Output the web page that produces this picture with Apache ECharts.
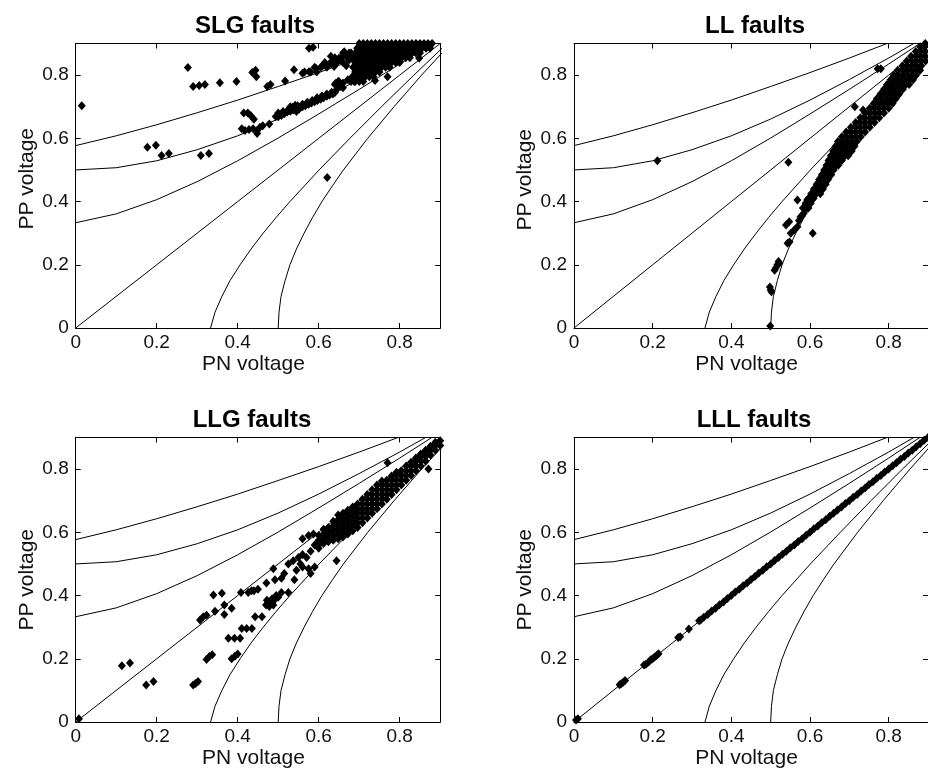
<!DOCTYPE html>
<html>
<head>
<meta charset="utf-8">
<script src="https://cdn.jsdelivr.net/npm/echarts@6/dist/echarts.min.js"></script>
<style>
html,body{margin:0;padding:0;background:#fff;}
#chart{width:928px;height:774px;}
</style>
</head>
<body>
<div id="chart"></div>
<script>
// ---------- data ----------
const panelTitles = ['SLG faults', 'LL faults', 'LLG faults', 'LLL faults'];
const xTickLabels = ['0', '0.2', '0.4', '0.6', '0.8'];
const yTickLabels = ['0', '0.2', '0.4', '0.6', '0.8'];
const xName = 'PN voltage';
const yName = 'PP voltage';

// reference curves (same in every panel)
const curveA = [[0,0],[0.2,0.2],[0.4,0.4],[0.6,0.6],[0.8,0.8],[1,1]];
const curveB = [[0,0.577],[0.1,0.608],[0.2,0.643],[0.3,0.681],[0.4,0.721],[0.5,0.764],[0.6,0.808],[0.7,0.854],[0.8,0.902],[0.9,0.950],[1,1]];
const curveD = [[0,0.5],[0.1,0.507],[0.2,0.529],[0.3,0.564],[0.4,0.608],[0.5,0.661],[0.6,0.721],[0.7,0.786],[0.8,0.854],[0.9,0.926],[1,1]];
const curveF = [[0,0.333],[0.1,0.361],[0.2,0.406],[0.3,0.463],[0.4,0.529],[0.5,0.601],[0.6,0.677],[0.7,0.755],[0.8,0.835],[0.9,0.917],[1,1]];
const curveC = [[0.5,0],[0.502,0.05],[0.507,0.1],[0.517,0.15],[0.529,0.2],[0.545,0.25],[0.564,0.3],[0.585,0.35],[0.608,0.4],[0.634,0.45],[0.661,0.5],[0.721,0.6],[0.786,0.7],[0.854,0.8],[0.926,0.9],[1,1]];
const curveG = [[0.333,0],[0.344,0.05],[0.361,0.1],[0.381,0.15],[0.406,0.2],[0.433,0.25],[0.463,0.3],[0.495,0.35],[0.529,0.4],[0.601,0.5],[0.677,0.6],[0.755,0.7],[0.835,0.8],[0.917,0.9],[1,1]];

// measured points: [PN voltage, PP voltage]
const slgPoints = [
 [0.015,0.703],[0.277,0.824],[0.29,0.764],[0.305,0.767],[0.319,0.77],[0.356,0.776],[0.397,0.78],
 [0.436,0.808],[0.444,0.815],[0.446,0.795],[0.473,0.764],[0.481,0.77],[0.517,0.781],[0.539,0.817],
 [0.576,0.885],[0.586,0.888],[0.177,0.572],[0.198,0.578],[0.212,0.546],[0.23,0.552],[0.309,0.546],
 [0.329,0.552],[0.621,0.476],
 [0.415,0.68],[0.425,0.68],[0.432,0.672],[0.44,0.66],[0.41,0.63],[0.418,0.625],[0.428,0.628],
 [0.438,0.63],[0.448,0.625],[0.455,0.635],[0.462,0.64],[0.448,0.615],[0.478,0.645],[0.494,0.669],
 [0.5,0.668],[0.508,0.672],[0.515,0.678],[0.522,0.683],[0.53,0.686],[0.537,0.69],[0.545,0.695],
 [0.552,0.693],[0.56,0.7],[0.567,0.703],[0.575,0.708],[0.582,0.712],[0.59,0.716],[0.597,0.72],
 [0.605,0.724],[0.612,0.728],[0.62,0.733],[0.627,0.737],[0.635,0.74],[0.64,0.745],[0.545,0.685],
 [0.5,0.68],[0.512,0.685],[0.524,0.69],[0.536,0.698],[0.548,0.703],[0.56,0.708],[0.572,0.714],
 [0.584,0.72],[0.596,0.728],[0.608,0.734],[0.62,0.74],[0.632,0.746],[0.53,0.7],[0.542,0.705],
 [0.642,0.774],[0.648,0.78],[0.654,0.764],[0.683,0.795],[0.695,0.8],[0.688,0.78],[0.64,0.77],
 [0.65,0.78],[0.66,0.76],[0.645,0.755],[0.66,0.775],[0.672,0.785],
 [0.56,0.806],[0.576,0.811],[0.593,0.822],[0.609,0.829],[0.626,0.835],[0.638,0.827],[0.65,0.853],
 [0.667,0.864],[0.663,0.874],[0.675,0.848],[0.63,0.86],[0.64,0.85],[0.66,0.86],[0.668,0.83],
 [0.739,0.783],[0.77,0.795],[0.848,0.853],
 [0.565,0.81],[0.58,0.81],[0.595,0.81],[0.59,0.825],[0.605,0.825],[0.62,0.825],
 [0.615,0.84],[0.63,0.84],[0.645,0.84],[0.66,0.84],[0.64,0.855],[0.655,0.855],[0.67,0.855],
 [0.66,0.87],[0.675,0.87]
];

// dense cluster of SLG points at the upper right
const slgCluster = [
 [0.70,0.90],[0.71,0.90],[0.72,0.90],[0.73,0.90],[0.74,0.90],[0.75,0.90],[0.76,0.90],[0.77,0.90],
 [0.78,0.90],[0.79,0.90],[0.80,0.90],[0.81,0.90],[0.82,0.90],[0.83,0.90],[0.84,0.90],[0.85,0.90],
 [0.86,0.90],[0.87,0.90],[0.88,0.90],
 [0.695,0.885],[0.705,0.885],[0.715,0.885],[0.725,0.885],[0.735,0.885],[0.745,0.885],[0.755,0.885],
 [0.765,0.885],[0.775,0.885],[0.785,0.885],[0.795,0.885],[0.805,0.885],[0.815,0.885],[0.825,0.885],
 [0.835,0.885],[0.845,0.885],[0.855,0.885],[0.865,0.885],[0.875,0.885],
 [0.68,0.87],[0.69,0.87],[0.70,0.87],[0.71,0.87],[0.72,0.87],[0.73,0.87],[0.74,0.87],[0.75,0.87],
 [0.76,0.87],[0.77,0.87],[0.78,0.87],[0.79,0.87],[0.80,0.87],[0.81,0.87],[0.82,0.87],[0.83,0.87],
 [0.84,0.87],[0.85,0.87],
 [0.685,0.855],[0.695,0.855],[0.705,0.855],[0.715,0.855],[0.725,0.855],[0.735,0.855],[0.745,0.855],
 [0.755,0.855],[0.765,0.855],[0.775,0.855],[0.785,0.855],[0.795,0.855],[0.805,0.855],[0.815,0.855],
 [0.825,0.855],
 [0.69,0.84],[0.70,0.84],[0.71,0.84],[0.72,0.84],[0.73,0.84],[0.74,0.84],[0.75,0.84],[0.76,0.84],
 [0.77,0.84],[0.78,0.84],[0.79,0.84],[0.80,0.84],
 [0.685,0.825],[0.695,0.825],[0.705,0.825],[0.715,0.825],[0.725,0.825],[0.735,0.825],[0.745,0.825],
 [0.755,0.825],[0.765,0.825],[0.775,0.825],
 [0.69,0.81],[0.70,0.81],[0.71,0.81],[0.72,0.81],[0.73,0.81],[0.74,0.81],[0.75,0.81],
 [0.685,0.795],[0.695,0.795],[0.705,0.795],[0.715,0.795],[0.725,0.795],[0.735,0.795],
 [0.68,0.78],[0.69,0.78],[0.70,0.78],[0.71,0.78]
];

const llPoints = [
 [0.212,0.529],[0.545,0.524],[0.714,0.70],[0.735,0.69],[0.772,0.82],[0.78,0.82],[0.607,0.30],
 [0.499,0.006],[0.498,0.13],[0.5,0.12],[0.502,0.115],[0.51,0.183],[0.513,0.19],[0.517,0.2],
 [0.52,0.21],[0.522,0.205],[0.543,0.268],[0.548,0.272],[0.539,0.326],[0.547,0.336],[0.551,0.3],
 [0.56,0.31],[0.568,0.32],[0.576,0.352],[0.584,0.363],[0.568,0.405],[0.593,0.405],[0.601,0.415],
 [0.59,0.38],[0.597,0.39],[0.572,0.34],[0.58,0.355],
 [0.582,0.38],[0.596,0.38],[0.589,0.395],[0.602,0.395],[0.596,0.41],[0.609,0.41],
 [0.603,0.425],[0.616,0.425],[0.626,0.425],[0.61,0.44],[0.622,0.44],[0.633,0.44],
 [0.617,0.455],[0.629,0.455],[0.64,0.455],[0.623,0.47],[0.635,0.47],[0.646,0.47],
 [0.63,0.485],[0.642,0.485],[0.654,0.485],[0.636,0.50],[0.648,0.50],[0.66,0.50],
 [0.642,0.515],[0.654,0.515],[0.666,0.515],[0.672,0.515],[0.647,0.53],[0.659,0.53],[0.671,0.53],[0.681,0.53],
 [0.653,0.545],[0.665,0.545],[0.677,0.545],[0.689,0.545],[0.697,0.545],
 [0.659,0.56],[0.671,0.56],[0.683,0.56],[0.695,0.56],[0.706,0.56],
 [0.665,0.575],[0.677,0.575],[0.689,0.575],[0.701,0.575],[0.713,0.575],
 [0.671,0.59],[0.683,0.59],[0.695,0.59],[0.707,0.59],[0.719,0.59],
 [0.681,0.605],[0.693,0.605],[0.705,0.605],[0.717,0.605],[0.729,0.605],
 [0.692,0.62],[0.704,0.62],[0.716,0.62],[0.728,0.62],[0.74,0.62],
 [0.704,0.635],[0.716,0.635],[0.728,0.635],[0.74,0.635],[0.752,0.635],
 [0.716,0.65],[0.728,0.65],[0.74,0.65],[0.752,0.65],[0.764,0.65],
 [0.728,0.665],[0.74,0.665],[0.752,0.665],[0.764,0.665],[0.776,0.665],
 [0.74,0.68],[0.752,0.68],[0.764,0.68],[0.776,0.68],[0.788,0.68],
 [0.752,0.695],[0.764,0.695],[0.776,0.695],[0.788,0.695],[0.80,0.695],
 [0.762,0.71],[0.774,0.71],[0.786,0.71],[0.798,0.71],[0.81,0.71],
 [0.77,0.725],[0.782,0.725],[0.794,0.725],[0.806,0.725],[0.818,0.725],
 [0.779,0.74],[0.791,0.74],[0.803,0.74],[0.815,0.74],[0.827,0.74],
 [0.788,0.755],[0.80,0.755],[0.812,0.755],[0.824,0.755],[0.836,0.755],
 [0.796,0.77],[0.808,0.77],[0.82,0.77],[0.832,0.77],[0.844,0.77],[0.852,0.77],
 [0.805,0.785],[0.817,0.785],[0.829,0.785],[0.841,0.785],[0.853,0.785],[0.862,0.785],
 [0.813,0.80],[0.825,0.80],[0.837,0.80],[0.849,0.80],[0.861,0.80],[0.87,0.80],
 [0.823,0.815],[0.835,0.815],[0.847,0.815],[0.859,0.815],[0.871,0.815],[0.88,0.815],
 [0.835,0.83],[0.847,0.83],[0.859,0.83],[0.871,0.83],[0.883,0.83],
 [0.846,0.845],[0.858,0.845],[0.87,0.845],[0.882,0.845],[0.894,0.845],
 [0.857,0.86],[0.869,0.86],[0.881,0.86],[0.893,0.86],
 [0.869,0.875],[0.881,0.875],[0.893,0.875],[0.88,0.89],[0.892,0.89],[0.893,0.9]
];

const llgPoints = [
 [0.008,0.01],[0.114,0.178],[0.134,0.187],[0.174,0.117],[0.192,0.128],[0.29,0.117],[0.296,0.122],
 [0.302,0.128],[0.323,0.198],[0.33,0.207],[0.337,0.213],[0.385,0.2],[0.393,0.208],[0.4,0.215],
 [0.377,0.265],[0.392,0.265],[0.406,0.265],[0.41,0.296],[0.422,0.296],[0.435,0.296],[0.307,0.323],
 [0.315,0.333],[0.323,0.338],[0.34,0.402],[0.361,0.407],[0.344,0.35],[0.367,0.34],[0.367,0.37],
 [0.385,0.36],[0.408,0.41],[0.426,0.41],[0.434,0.415],[0.443,0.333],[0.46,0.333],
 [0.47,0.37],[0.475,0.38],[0.48,0.375],[0.485,0.39],[0.49,0.385],[0.478,0.365],[0.495,0.4],
 [0.5,0.395],[0.488,0.37],[0.472,0.385],[0.471,0.44],[0.492,0.45],[0.508,0.455],[0.508,0.41],
 [0.525,0.41],[0.54,0.45],[0.545,0.48],[0.56,0.49],[0.575,0.485],[0.59,0.49],[0.58,0.47],
 [0.488,0.485],[0.44,0.415],[0.45,0.42],[0.537,0.51],[0.55,0.52],[0.56,0.53],[0.56,0.58],
 [0.575,0.59],[0.587,0.595],[0.6,0.55],[0.6,0.57],[0.644,0.51],[0.871,0.8],[0.77,0.82],
 [0.58,0.54],[0.59,0.56],[0.57,0.52],[0.525,0.5],[0.515,0.47],[0.555,0.5],
 [0.60,0.56],[0.60,0.575],[0.60,0.59],
 [0.612,0.565],[0.612,0.58],[0.612,0.595],[0.612,0.61],
 [0.624,0.57],[0.624,0.585],[0.624,0.60],[0.624,0.615],
 [0.636,0.575],[0.636,0.59],[0.636,0.605],[0.636,0.62],[0.636,0.635],
 [0.648,0.58],[0.648,0.595],[0.648,0.61],[0.648,0.625],[0.648,0.64],[0.648,0.655],
 [0.66,0.585],[0.66,0.60],[0.66,0.615],[0.66,0.63],[0.66,0.645],[0.66,0.66],
 [0.672,0.595],[0.672,0.61],[0.672,0.625],[0.672,0.64],[0.672,0.655],[0.672,0.67],
 [0.684,0.605],[0.684,0.62],[0.684,0.635],[0.684,0.65],[0.684,0.665],[0.684,0.68],
 [0.696,0.615],[0.696,0.63],[0.696,0.645],[0.696,0.66],[0.696,0.675],[0.696,0.69],
 [0.708,0.63],[0.708,0.645],[0.708,0.66],[0.708,0.675],[0.708,0.69],[0.708,0.705],
 [0.72,0.645],[0.72,0.66],[0.72,0.675],[0.72,0.69],[0.72,0.705],[0.72,0.72],
 [0.732,0.66],[0.732,0.675],[0.732,0.69],[0.732,0.705],[0.732,0.72],[0.732,0.735],
 [0.744,0.675],[0.744,0.69],[0.744,0.705],[0.744,0.72],[0.744,0.735],[0.744,0.75],
 [0.756,0.69],[0.756,0.705],[0.756,0.72],[0.756,0.735],[0.756,0.75],[0.756,0.762],
 [0.768,0.705],[0.768,0.72],[0.768,0.735],[0.768,0.75],[0.768,0.765],
 [0.78,0.72],[0.78,0.735],[0.78,0.75],[0.78,0.765],[0.78,0.778],
 [0.792,0.735],[0.792,0.75],[0.792,0.765],[0.792,0.78],[0.792,0.79],
 [0.804,0.75],[0.804,0.765],[0.804,0.78],[0.804,0.795],
 [0.816,0.765],[0.816,0.78],[0.816,0.795],[0.816,0.81],
 [0.828,0.78],[0.828,0.795],[0.828,0.81],[0.828,0.822],
 [0.84,0.795],[0.84,0.81],[0.84,0.825],[0.84,0.835],
 [0.852,0.81],[0.852,0.825],[0.852,0.84],[0.852,0.848],
 [0.864,0.825],[0.864,0.84],[0.864,0.855],[0.864,0.86],
 [0.876,0.845],[0.876,0.86],[0.876,0.872],
 [0.888,0.86],[0.888,0.875],[0.888,0.885],[0.9,0.875],[0.9,0.89]
];

const lllPoints = [
 [0.005,0.006],[0.01,0.01],[0.116,0.118],[0.12,0.121],[0.125,0.126],[0.13,0.131],[0.178,0.18],
 [0.183,0.183],[0.19,0.19],[0.195,0.197],[0.2,0.2],[0.205,0.206],[0.21,0.21],[0.215,0.216],
 [0.265,0.267],[0.27,0.27],[0.292,0.294],[0.318,0.32],[0.322,0.323],[0.33,0.331],[0.34,0.34],
 [0.35,0.351],[0.36,0.36],[0.37,0.371],[0.38,0.38],[0.39,0.391],[0.40,0.40],[0.41,0.411],
 [0.42,0.42],[0.43,0.431],[0.44,0.44],[0.45,0.451],[0.46,0.46],[0.47,0.471],[0.48,0.48],
 [0.49,0.491],[0.50,0.50],[0.51,0.511],[0.52,0.52],[0.53,0.531],[0.54,0.54],[0.55,0.551],
 [0.56,0.56],[0.57,0.571],[0.58,0.58],[0.59,0.591],[0.60,0.60],[0.61,0.611],[0.62,0.62],
 [0.63,0.631],[0.64,0.64],[0.65,0.651],[0.66,0.66],[0.67,0.671],[0.68,0.68],[0.69,0.691],
 [0.70,0.70],[0.71,0.711],[0.72,0.72],[0.73,0.731],[0.74,0.74],[0.75,0.751],[0.76,0.76],
 [0.77,0.771],[0.78,0.78],[0.79,0.791],[0.80,0.80],[0.81,0.811],[0.82,0.82],[0.83,0.831],
 [0.84,0.84],[0.85,0.851],[0.86,0.86],[0.87,0.871],[0.88,0.88],[0.89,0.891],[0.9,0.9]
];

const scatterSets = [slgPoints.concat(slgCluster), llPoints, llgPoints, lllPoints];
const curves = [curveA, curveB, curveD, curveF, curveC, curveG];

// ---------- layout ----------
const FONT = 'Liberation Sans, Arial, sans-serif';
const layout = [
  {left: 75.7, top: 43.5, titleX: 255, titleY: 14, yPad: [0,0,0,14]},
  {left: 574,  top: 43.5, titleX: 755, titleY: 14, yPad: [0,0,0,12]},
  {left: 75.7, top: 437.5, titleX: 252, titleY: 408, yPad: [0,0,0,0]},
  {left: 574,  top: 437.5, titleX: 754, titleY: 408, yPad: [0,0,0,0]}
];
const PW = 364.5, PH = 284.5;

const grids = [], xAxes = [], yAxes = [], series = [], titles = [];
layout.forEach((L, i) => {
  grids.push({left: L.left, top: L.top, width: PW, height: PH, containLabel: false});
  titles.push({
    text: panelTitles[i], left: L.titleX, top: L.titleY, textAlign: 'center', padding: 0,
    textStyle: {fontSize: 24, fontWeight: 'bold', fontFamily: FONT, color: '#000'}
  });
  const base = {
    gridIndex: i, type: 'value', min: 0, max: 0.9, interval: 0.2,
    splitLine: {show: false},
    axisLine: {onZero: false, lineStyle: {color: '#000', width: 1}},
    axisTick: {inside: true, length: 5, lineStyle: {color: '#000', width: 1}}
  };
  xAxes.push(Object.assign({}, base, {
    position: 'bottom',
    axisLabel: {margin: 5, fontSize: 19, color: '#111', fontFamily: FONT, showMaxLabel: false,
      formatter: v => { const k = Math.round(v / 0.2); return k >= 0 && k < xTickLabels.length && Math.abs(v - k*0.2) < 1e-6 ? xTickLabels[k] : ''; }},
    name: xName, nameLocation: 'middle', nameGap: 26,
    nameTextStyle: {fontSize: 21, color: '#111', fontFamily: FONT, padding: [0, 9, 0, 0]}
  }));
  xAxes.push(Object.assign({}, base, {position: 'top', axisLabel: {show: false}}));
  yAxes.push(Object.assign({}, base, {
    position: 'left',
    axisLabel: {margin: 7, fontSize: 19, color: '#111', fontFamily: FONT, showMaxLabel: false,
      formatter: v => { const k = Math.round(v / 0.2); return k >= 0 && k < yTickLabels.length && Math.abs(v - k*0.2) < 1e-6 ? yTickLabels[k] : ''; }},
    name: yName, nameLocation: 'middle', nameGap: 38,
    nameTextStyle: {fontSize: 21, color: '#111', fontFamily: FONT, padding: L.yPad}
  }));
  yAxes.push(Object.assign({}, base, {position: 'right', axisLabel: {show: false}}));

  curves.forEach(c => {
    series.push({
      type: 'line', xAxisIndex: 2*i, yAxisIndex: 2*i, data: c, showSymbol: false, symbol: 'none',
      silent: true, clip: true, lineStyle: {color: '#000', width: 1}, z: 2
    });
  });
  series.push({
    type: 'scatter', xAxisIndex: 2*i, yAxisIndex: 2*i, data: scatterSets[i],
    symbol: 'diamond', symbolSize: [8, 9], clip: true, silent: true,
    itemStyle: {color: '#000', opacity: 1}, z: 3
  });
});

const chart = echarts.init(document.getElementById('chart'), null, {renderer: 'canvas'});
chart.setOption({
  backgroundColor: '#fff',
  animation: false,
  title: titles,
  grid: grids,
  xAxis: xAxes,
  yAxis: yAxes,
  series: series
});
</script>
</body>
</html>
